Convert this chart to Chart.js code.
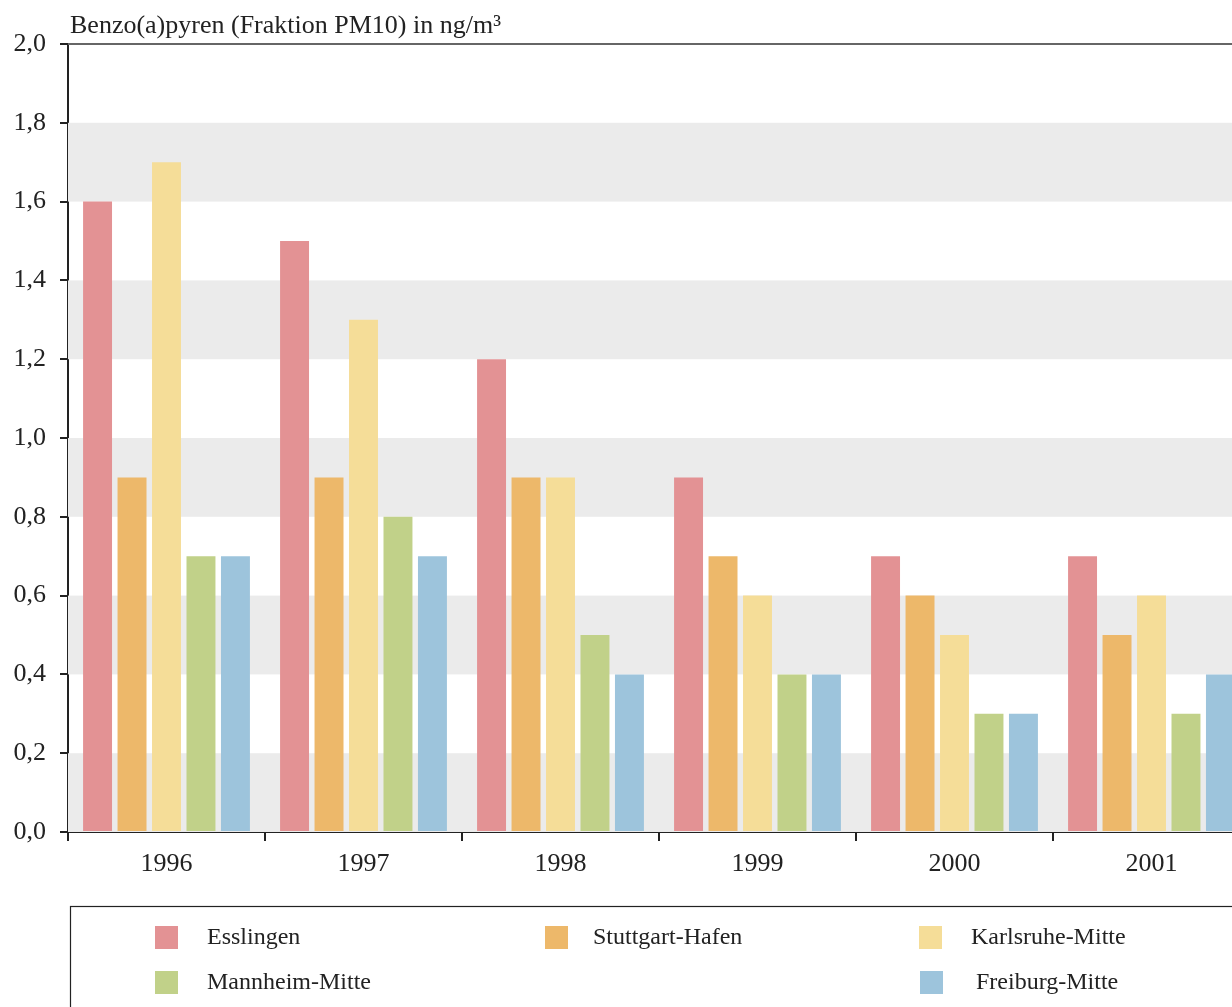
<!DOCTYPE html>
<html>
<head>
<meta charset="utf-8">
<script src="https://cdn.jsdelivr.net/npm/chart.js@4.4.0/dist/chart.umd.min.js"></script>
<style>
  html, body { margin: 0; padding: 0; background: #fff; overflow: hidden; }
  #wrap { width: 1262px; height: 1007px; }
</style>
</head>
<body>
<div id="wrap"><canvas id="BarChart" width="1262" height="1007"></canvas></div>
<script>
const years = ["1996", "1997", "1998", "1999", "2000", "2001"];
const stations = ["Esslingen", "Stuttgart-Hafen", "Karlsruhe-Mitte", "Mannheim-Mitte", "Freiburg-Mitte"];
const esslingen = [1.6, 1.5, 1.2, 0.9, 0.7, 0.7];
const stuttgart = [0.9, 0.9, 0.9, 0.7, 0.6, 0.5];
const karlsruhe = [1.7, 1.3, 0.9, 0.6, 0.5, 0.6];
const mannheim = [0.7, 0.8, 0.5, 0.4, 0.3, 0.3];
const freiburg = [0.7, 0.7, 0.4, 0.4, 0.3, 0.4];
const colors = ["#e39294", "#edb86a", "#f5dd98", "#c1d189", "#9dc4dc"];
const bands = [[0, 0.2], [0.4, 0.6], [0.8, 1.0], [1.2, 1.4], [1.6, 1.8]];
const unitTitle = "Benzo(a)pyren (Fraktion PM10) in ng/m³";

const serif = "'Liberation Serif', 'Times New Roman', serif";
const ink = "#222";

// grey bands behind the bars
const bandPlugin = {
  id: "bands",
  beforeDatasetsDraw(chart) {
    const { ctx, chartArea } = chart;
    const y = chart.scales.y;
    ctx.save();
    ctx.fillStyle = "#ebebeb";
    bands.forEach(([a, b]) => {
      const top = y.getPixelForValue(b);
      const bottom = y.getPixelForValue(a);
      ctx.fillRect(chartArea.left, top, chartArea.right - chartArea.left, bottom - top);
    });
    ctx.restore();
  },
};

// title, top line and legend box
const decoPlugin = {
  id: "deco",
  afterDraw(chart) {
    const { ctx, chartArea } = chart;
    ctx.save();
    ctx.strokeStyle = "#666";
    ctx.lineWidth = 2;
    ctx.beginPath();
    ctx.moveTo(chartArea.left, chartArea.top);
    ctx.lineTo(chart.width, chartArea.top);
    ctx.stroke();

    ctx.fillStyle = ink;
    ctx.font = "26px " + serif;
    ctx.textBaseline = "alphabetic";
    ctx.textAlign = "left";
    ctx.fillText(unitTitle, 70, 33);

    // legend
    ctx.strokeStyle = ink;
    ctx.lineWidth = 1.2;
    ctx.strokeRect(70.5, 906.5, 1300, 200);
    const pos = [[155, 926, 207], [545, 926, 593], [919, 926, 971], [155, 971, 207], [920, 971, 976]];
    ctx.font = "24px " + serif;
    ctx.textBaseline = "middle";
    chart.data.datasets.forEach((ds, i) => {
      const [sx, sy, tx] = pos[i];
      ctx.fillStyle = ds.backgroundColor;
      ctx.fillRect(sx, sy, 23, 23);
      ctx.fillStyle = ink;
      ctx.fillText(ds.label, tx, sy + 12);
    });
    ctx.restore();
  },
};

const seriesData = [esslingen, stuttgart, karlsruhe, mannheim, freiburg];

const ctxbar = document.getElementById("BarChart").getContext("2d");
new Chart(ctxbar, {
  type: "bar",
  data: {
    labels: years,
    datasets: stations.map((name, i) => ({
      label: name,
      data: seriesData[i],
      backgroundColor: colors[i],
      borderWidth: 0,
      categoryPercentage: 0.875,
      barPercentage: 0.84,
    })),
  },
  options: {
    responsive: false,
    animation: false,
    events: [],
    layout: { padding: { top: 44, right: 12, bottom: 0, left: 0 } },
    plugins: {
      legend: { display: false },
      tooltip: { enabled: false },
    },
    scales: {
      x: {
        afterFit: (scale) => { scale.height = 175; },
        border: { display: true, color: ink, width: 2 },
        grid: { offset: true, drawOnChartArea: false, drawTicks: true, tickLength: 9, color: ink, lineWidth: 2 },
        ticks: { color: ink, font: { family: serif, size: 26 }, padding: 8 },
      },
      y: {
        min: 0,
        max: 2,
        afterFit: (scale) => { scale.width = 68; },
        border: { display: true, color: ink, width: 2 },
        grid: { drawOnChartArea: false, drawTicks: true, tickLength: 8, color: ink, lineWidth: 2 },
        ticks: {
          stepSize: 0.2,
          color: ink,
          font: { family: serif, size: 26 },
          padding: 14,
          callback: (v) => v.toFixed(1).replace(".", ","),
        },
      },
    },
  },
  plugins: [bandPlugin, decoPlugin],
});
</script>
</body>
</html>
